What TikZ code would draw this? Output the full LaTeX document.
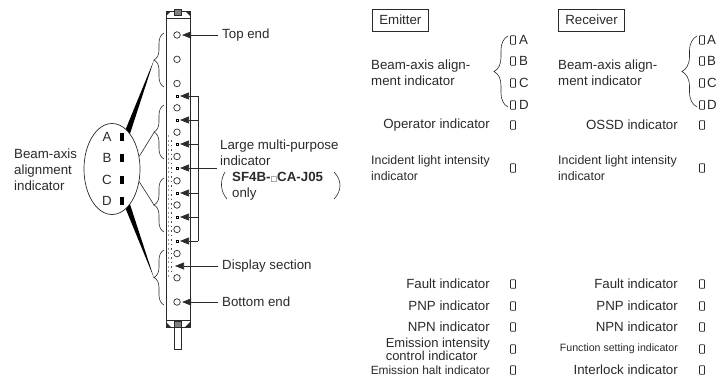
\documentclass[tikz,border=0pt]{standalone}
\usepackage{fontspec}
\setmainfont{Liberation Sans}
\newfontfamily\symfont{DejaVu Sans}
\usetikzlibrary{arrows.meta,shapes.geometric,decorations.pathreplacing}
\definecolor{inkgray}{HTML}{2A2A2A}
\begin{document}
\begin{tikzpicture}[
  x=1pt, y=-1pt,
  lbl/.style={font=\fontsize{13.3}{16}\selectfont, inner sep=0pt, text=inkgray, align=left},
  lamp/.style={circle, draw=inkgray, line width=0.7pt, minimum size=6.5pt, inner sep=0pt},
  dotled/.style={rectangle, draw=black, fill=white, line width=0.5pt, minimum size=2.5pt, inner sep=0pt},
  barled/.style={rectangle, fill=black, minimum width=4.5pt, minimum height=8pt, inner sep=0pt},
  ledbox/.style={rectangle, draw=inkgray, line width=0.7pt, rounded corners=0.5pt, minimum width=5pt, minimum height=8.5pt, inner sep=0pt},
  titlebox/.style={lbl, draw=inkgray, line width=0.6pt, minimum height=22pt, inner xsep=7pt},
  pointer/.style={draw=inkgray, line width=0.7pt, -{Triangle[length=9pt,width=7pt]}, shorten >=1.5pt},
  bracket/.style={draw=inkgray, line width=0.6pt, decorate, decoration={brace,amplitude=#1}}
]
\useasboundingbox (0,0) rectangle (726,380);

% --- Sensor body ---
\draw[inkgray, line width=0.8pt] (166,18) rectangle (190,320);
\draw[inkgray, line width=0.7pt, fill=white] (166,11) rectangle (190,18);
\fill[inkgray] (166,11) -- (171,11) -- (166,16) -- cycle;
\fill[inkgray] (190,11) -- (185,11) -- (190,16) -- cycle;
\draw[inkgray, fill=gray] (174,9) rectangle (181,15);
\draw[inkgray, line width=0.7pt, fill=white] (166,320) rectangle (190,327);
\fill[inkgray] (166,327) -- (171,327) -- (166,322) -- cycle;
\fill[inkgray] (190,327) -- (185,327) -- (190,322) -- cycle;
\draw[inkgray, fill=gray] (174,321) rectangle (181,327);
\draw[inkgray, line width=0.7pt] (174,327) rectangle (181,349);

% --- Dotted section ---
\draw[gray!80, line width=1.5pt, dash pattern=on 2pt off 2.5pt] (168.5,135) -- (168.5,277);
\draw[gray!60!black, line width=1.5pt, dash pattern=on 1.5pt off 3pt] (171.5,140) -- (171.5,272);

% --- Round indicators ---
\node[lamp] (L1) at (177,35) {};
\node[lamp] (L2) at (177,59.3) {};
\node[lamp] (L3) at (177,83.5) {};
\node[lamp] (L4) at (177,107.8) {};
\node[lamp] (L5) at (177,132.2) {};
\node[lamp] (L6) at (177,156.5) {};
\node[lamp] (L7) at (177,180.8) {};
\node[lamp] (L8) at (177,205) {};
\node[lamp] (L9) at (177,229.4) {};
\node[lamp] (L10) at (177,253.6) {};
\node[lamp] (L11) at (177,277.8) {};
\node[lamp] (L12) at (177,302) {};

% --- Small indicators ---
\node[dotled] (S1) at (177,96) {};
\node[dotled] (S2) at (177,120) {};
\node[dotled] (S3) at (177,144) {};
\node[dotled] (S4) at (177,168) {};
\node[dotled] (S5) at (177,193) {};
\node[dotled] (S6) at (177,217) {};
\node[dotled] (S7) at (177,241) {};

% --- Common line of the small indicators ---
\coordinate (B1) at (198,96);
\coordinate (B2) at (198,120);
\coordinate (B3) at (198,144);
\coordinate (B5) at (198,193);
\coordinate (B6) at (198,217);
\coordinate (B7) at (198,241);
\coordinate (B4) at (217,168);
\draw[inkgray, line width=0.7pt] (B1) -- (B7);
\draw[pointer] (B1) -- (S1);
\draw[pointer] (B2) -- (S2);
\draw[pointer] (B3) -- (S3);
\draw[pointer] (B4) -- (S4);
\draw[pointer] (B5) -- (S5);
\draw[pointer] (B6) -- (S6);
\draw[pointer] (B7) -- (S7);

% --- Labels on the right of the sensor ---
\node[lbl, anchor=west] (topend) at (222,35) {Top end};
\node[lbl, anchor=west] (large) at (220,153) {Large multi-purpose\\indicator};
\node[lbl, anchor=west] (model) at (232,186) {\textbf{SF4B-{\symfont\fontsize{7}{7}\selectfont □}CA-J05}\\only};
\node[lbl, anchor=west] (display) at (222,266) {Display section};
\node[lbl, anchor=west] (botend) at (222,302) {Bottom end};
\coordinate (D1) at (175,266);
\draw[pointer, shorten <=4pt] (topend) -- (L1);
\draw[pointer, shorten <=4pt, shorten >=0pt] (display) -- (D1);
\draw[pointer, shorten <=4pt] (botend) -- (L12);
\draw[inkgray, line width=0.6pt] (225,172) .. controls (220,180) and (220,191) .. (227,199);
\draw[inkgray, line width=0.6pt] (334,172) .. controls (342,180) and (342,191) .. (334,199);

% --- Side brackets ---
\draw[bracket=10pt] (164,87) -- (164,33);
\draw[bracket=10pt] (164,159) -- (164,105);
\draw[bracket=10pt] (164,232) -- (164,178);
\draw[bracket=10pt] (164,305) -- (164,250);
\coordinate (T1) at (154,60);
\coordinate (T2) at (154,132.5);
\coordinate (T3) at (154,205);
\coordinate (T4) at (154,278);

% --- Enlarged view ---
\node[ellipse, draw=inkgray, line width=0.7pt, minimum width=56pt, minimum height=91pt, inner sep=0pt] (ring) at (112,169) {};
\node[lbl] (A) at (107,137) {A};
\node[lbl] (B) at (107,158) {B};
\node[lbl] (C) at (107,180) {C};
\node[lbl] (D) at (107,201) {D};
\node[barled] (BA) at (122,137) {};
\node[barled] (BB) at (122,158) {};
\node[barled] (BC) at (122,180) {};
\node[barled] (BD) at (122,201) {};
\draw[inkgray, line width=0.6pt] (ring.25) -- (T2);
\draw[inkgray, line width=0.6pt] (ring.-25) -- (T3);
\fill[black] (ring.63) -- (ring.71) -- (T1) -- cycle;
\fill[black] (ring.-63) -- (ring.-71) -- (T4) -- cycle;
\node[lbl, anchor=west] (beamleft) at (14,170) {Beam-axis\\alignment\\indicator};

% --- Emitter column ---
\node[titlebox, anchor=west] (emitter) at (372,20) {Emitter};
\node[lbl, anchor=west] (ebeam) at (371,73) {Beam-axis align-\\ment indicator};
\draw[bracket=14pt] (508,107) -- (508,36);
\node[ledbox] (EA) at (513,40) {};
\node[ledbox] (EB) at (513,61) {};
\node[ledbox] (EC) at (513,83) {};
\node[ledbox] (ED) at (513,105) {};
\node[lbl, anchor=west] (EAt) at (519,40) {A};
\node[lbl, anchor=west] (EBt) at (519,61) {B};
\node[lbl, anchor=west] (ECt) at (519,83) {C};
\node[lbl, anchor=west] (EDt) at (519,105) {D};
\node[lbl, anchor=east] (eoper) at (490,125) {Operator indicator};
\node[ledbox] (EO) at (513,125) {};
\node[lbl, anchor=west, font=\fontsize{12.4}{16}\selectfont] (einc) at (371,168) {Incident light intensity\\indicator};
\node[ledbox] (EI) at (513,168) {};
\node[lbl, anchor=east] (efault) at (490,284) {Fault indicator};
\node[ledbox] (EF) at (513,284) {};
\node[lbl, anchor=east] (epnp) at (490,306) {PNP indicator};
\node[ledbox] (EP) at (513,306) {};
\node[lbl, anchor=east] (enpn) at (490,327) {NPN indicator};
\node[ledbox] (EN) at (513,327) {};
\node[lbl, anchor=east, font=\fontsize{13}{13}\selectfont] (eemis) at (490,349.5) {Emission intensity\\control indicator};
\node[ledbox] (EE) at (513,349) {};
\node[lbl, anchor=east, font=\fontsize{11.9}{13}\selectfont] (ehalt) at (490,370) {Emission halt indicator};
\node[ledbox] (EH) at (513,370) {};

% --- Receiver column ---
\node[titlebox, anchor=west] (receiver) at (558,20) {Receiver};
\node[lbl, anchor=west] (rbeam) at (558,73) {Beam-axis align-\\ment indicator};
\draw[bracket=15pt] (697,107) -- (697,36);
\node[ledbox] (RA) at (702,40) {};
\node[ledbox] (RB) at (702,61) {};
\node[ledbox] (RC) at (702,83) {};
\node[ledbox] (RD) at (702,105) {};
\node[lbl, anchor=west] (RAt) at (707,40) {A};
\node[lbl, anchor=west] (RBt) at (707,61) {B};
\node[lbl, anchor=west] (RCt) at (707,83) {C};
\node[lbl, anchor=west] (RDt) at (707,105) {D};
\node[lbl, anchor=east] (rossd) at (678,125) {OSSD indicator};
\node[ledbox] (RO) at (702,125) {};
\node[lbl, anchor=west, font=\fontsize{12.4}{16}\selectfont] (rinc) at (558,168) {Incident light intensity\\indicator};
\node[ledbox] (RI) at (702,168) {};
\node[lbl, anchor=east] (rfault) at (678,284) {Fault indicator};
\node[ledbox] (RF) at (702,284) {};
\node[lbl, anchor=east] (rpnp) at (678,306) {PNP indicator};
\node[ledbox] (RP) at (702,306) {};
\node[lbl, anchor=east] (rnpn) at (678,327) {NPN indicator};
\node[ledbox] (RN) at (702,327) {};
\node[lbl, anchor=east, font=\fontsize{10.6}{13}\selectfont] (rfunc) at (678,349) {Function setting indicator};
\node[ledbox] (RS) at (702,349) {};
\node[lbl, anchor=east] (rintl) at (678,370) {Interlock indicator};
\node[ledbox] (RL) at (702,370) {};

\end{tikzpicture}
\end{document}
